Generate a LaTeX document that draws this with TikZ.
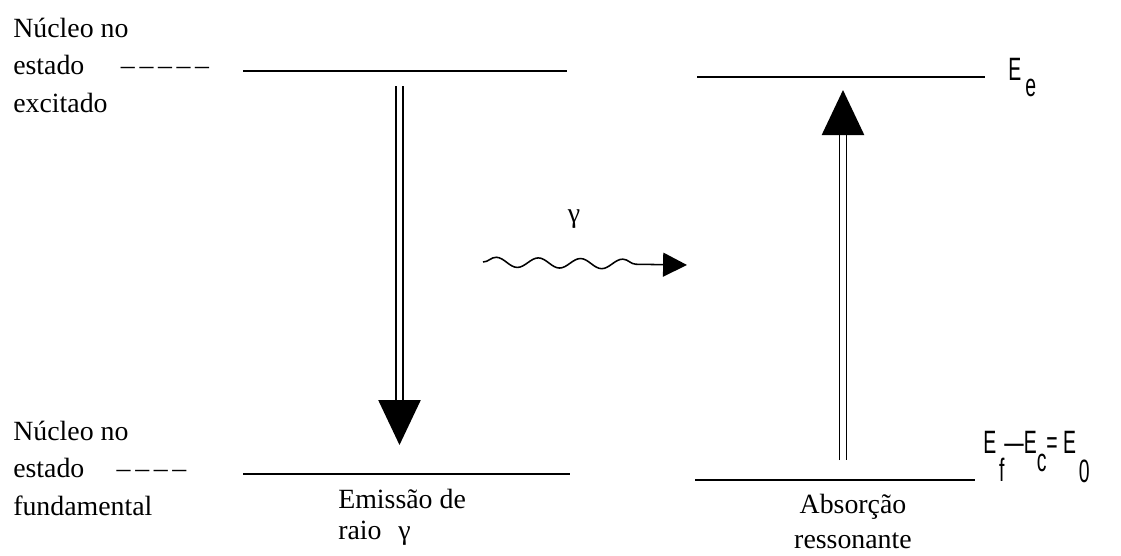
\documentclass[tikz,border=0pt]{standalone}
\usepackage{fontspec}
\setmainfont{Liberation Serif}
\newfontfamily\levelsans[FakeStretch=0.6]{Liberation Sans}
\usetikzlibrary{arrows.meta,decorations.pathmorphing}

\begin{document}
\begin{tikzpicture}[
  x=0.025cm, y=-0.025cm,
  level/.style      = {line width=1.4pt},
  notetext/.style   = {inner sep=0pt, align=left,
                       font=\fontsize{19.8}{26.5}\selectfont},
  energy/.style     = {inner sep=0pt, anchor=base west,
                       font=\levelsans\fontsize{23}{26}\selectfont},
  transition/.style = {double, double distance=3.6pt, line width=1.3pt,
                       -{Triangle[length=32pt, width=30pt]}},
  photon/.style     = {line width=1.1pt, -{Triangle[length=17pt, width=17pt]},
                       decorate, decoration={snake, amplitude=3.5pt,
                       segment length=30pt, post length=36pt}}
]
  \useasboundingbox (0,0) rectangle (1121,555);

  % Level end points
  \coordinate (exA) at (243,71);
  \coordinate (exB) at (567,71);
  \coordinate (fdA) at (243,474);
  \coordinate (fdB) at (570,474);
  \coordinate (eeA) at (697,77);
  \coordinate (eeB) at (985,77);
  \coordinate (e0A) at (695,480);
  \coordinate (e0B) at (975,480);

  % Transition end points
  \coordinate (emTop) at (399.5,86);
  \coordinate (emTip) at (399.5,445);
  \coordinate (abBot) at (843,460);
  \coordinate (abTip) at (843,90);
  \coordinate (phA) at (483,262);
  \coordinate (phB) at (687,265);

  % Left labels
  \node[notetext, anchor=north west] (exlabel) at (13,18)
    {Núcleo no\\estado\hspace{26pt}–\,–\,–\,–\,–\\excitado};
  \node[notetext, anchor=north west] (fdlabel) at (13,421)
    {Núcleo no\\estado\hspace{23pt}–\,–\,–\,–\\fundamental};

  % Levels
  \draw[level] (exA) -- (exB);
  \draw[level] (fdA) -- (fdB);
  \draw[level] (eeA) -- (eeB);
  \draw[level] (e0A) -- (e0B);

  % Energies
  \node[energy] (Ee) at (1008,80) {E\hspace{3pt}\raisebox{-12pt}{e}};
  \node[energy] (E0) at (983,453)
    {E\hspace{2pt}\raisebox{-20.5pt}{f}—E\raisebox{-13.5pt}{c}=\,E\hspace{2pt}\raisebox{-21pt}{0}};

  % Transitions
  \draw[transition] (emTop) -- (emTip);
  \draw[transition] (abBot) -- (abTip);
  \draw[photon] (phA) -- (phB);
  \node[notetext, anchor=base] (gam) at (574,222) {γ};

  % Captions
  \node[notetext, anchor=north west, font=\fontsize{19.8}{22}\selectfont] (emtext) at (338,489)
    {Emissão de\\raio\hspace{12pt}γ};
  \node[notetext, anchor=north, align=center, font=\fontsize{19.8}{25}\selectfont] (abtext) at (853,494)
    {Absorção\\ressonante};
\end{tikzpicture}
\end{document}
